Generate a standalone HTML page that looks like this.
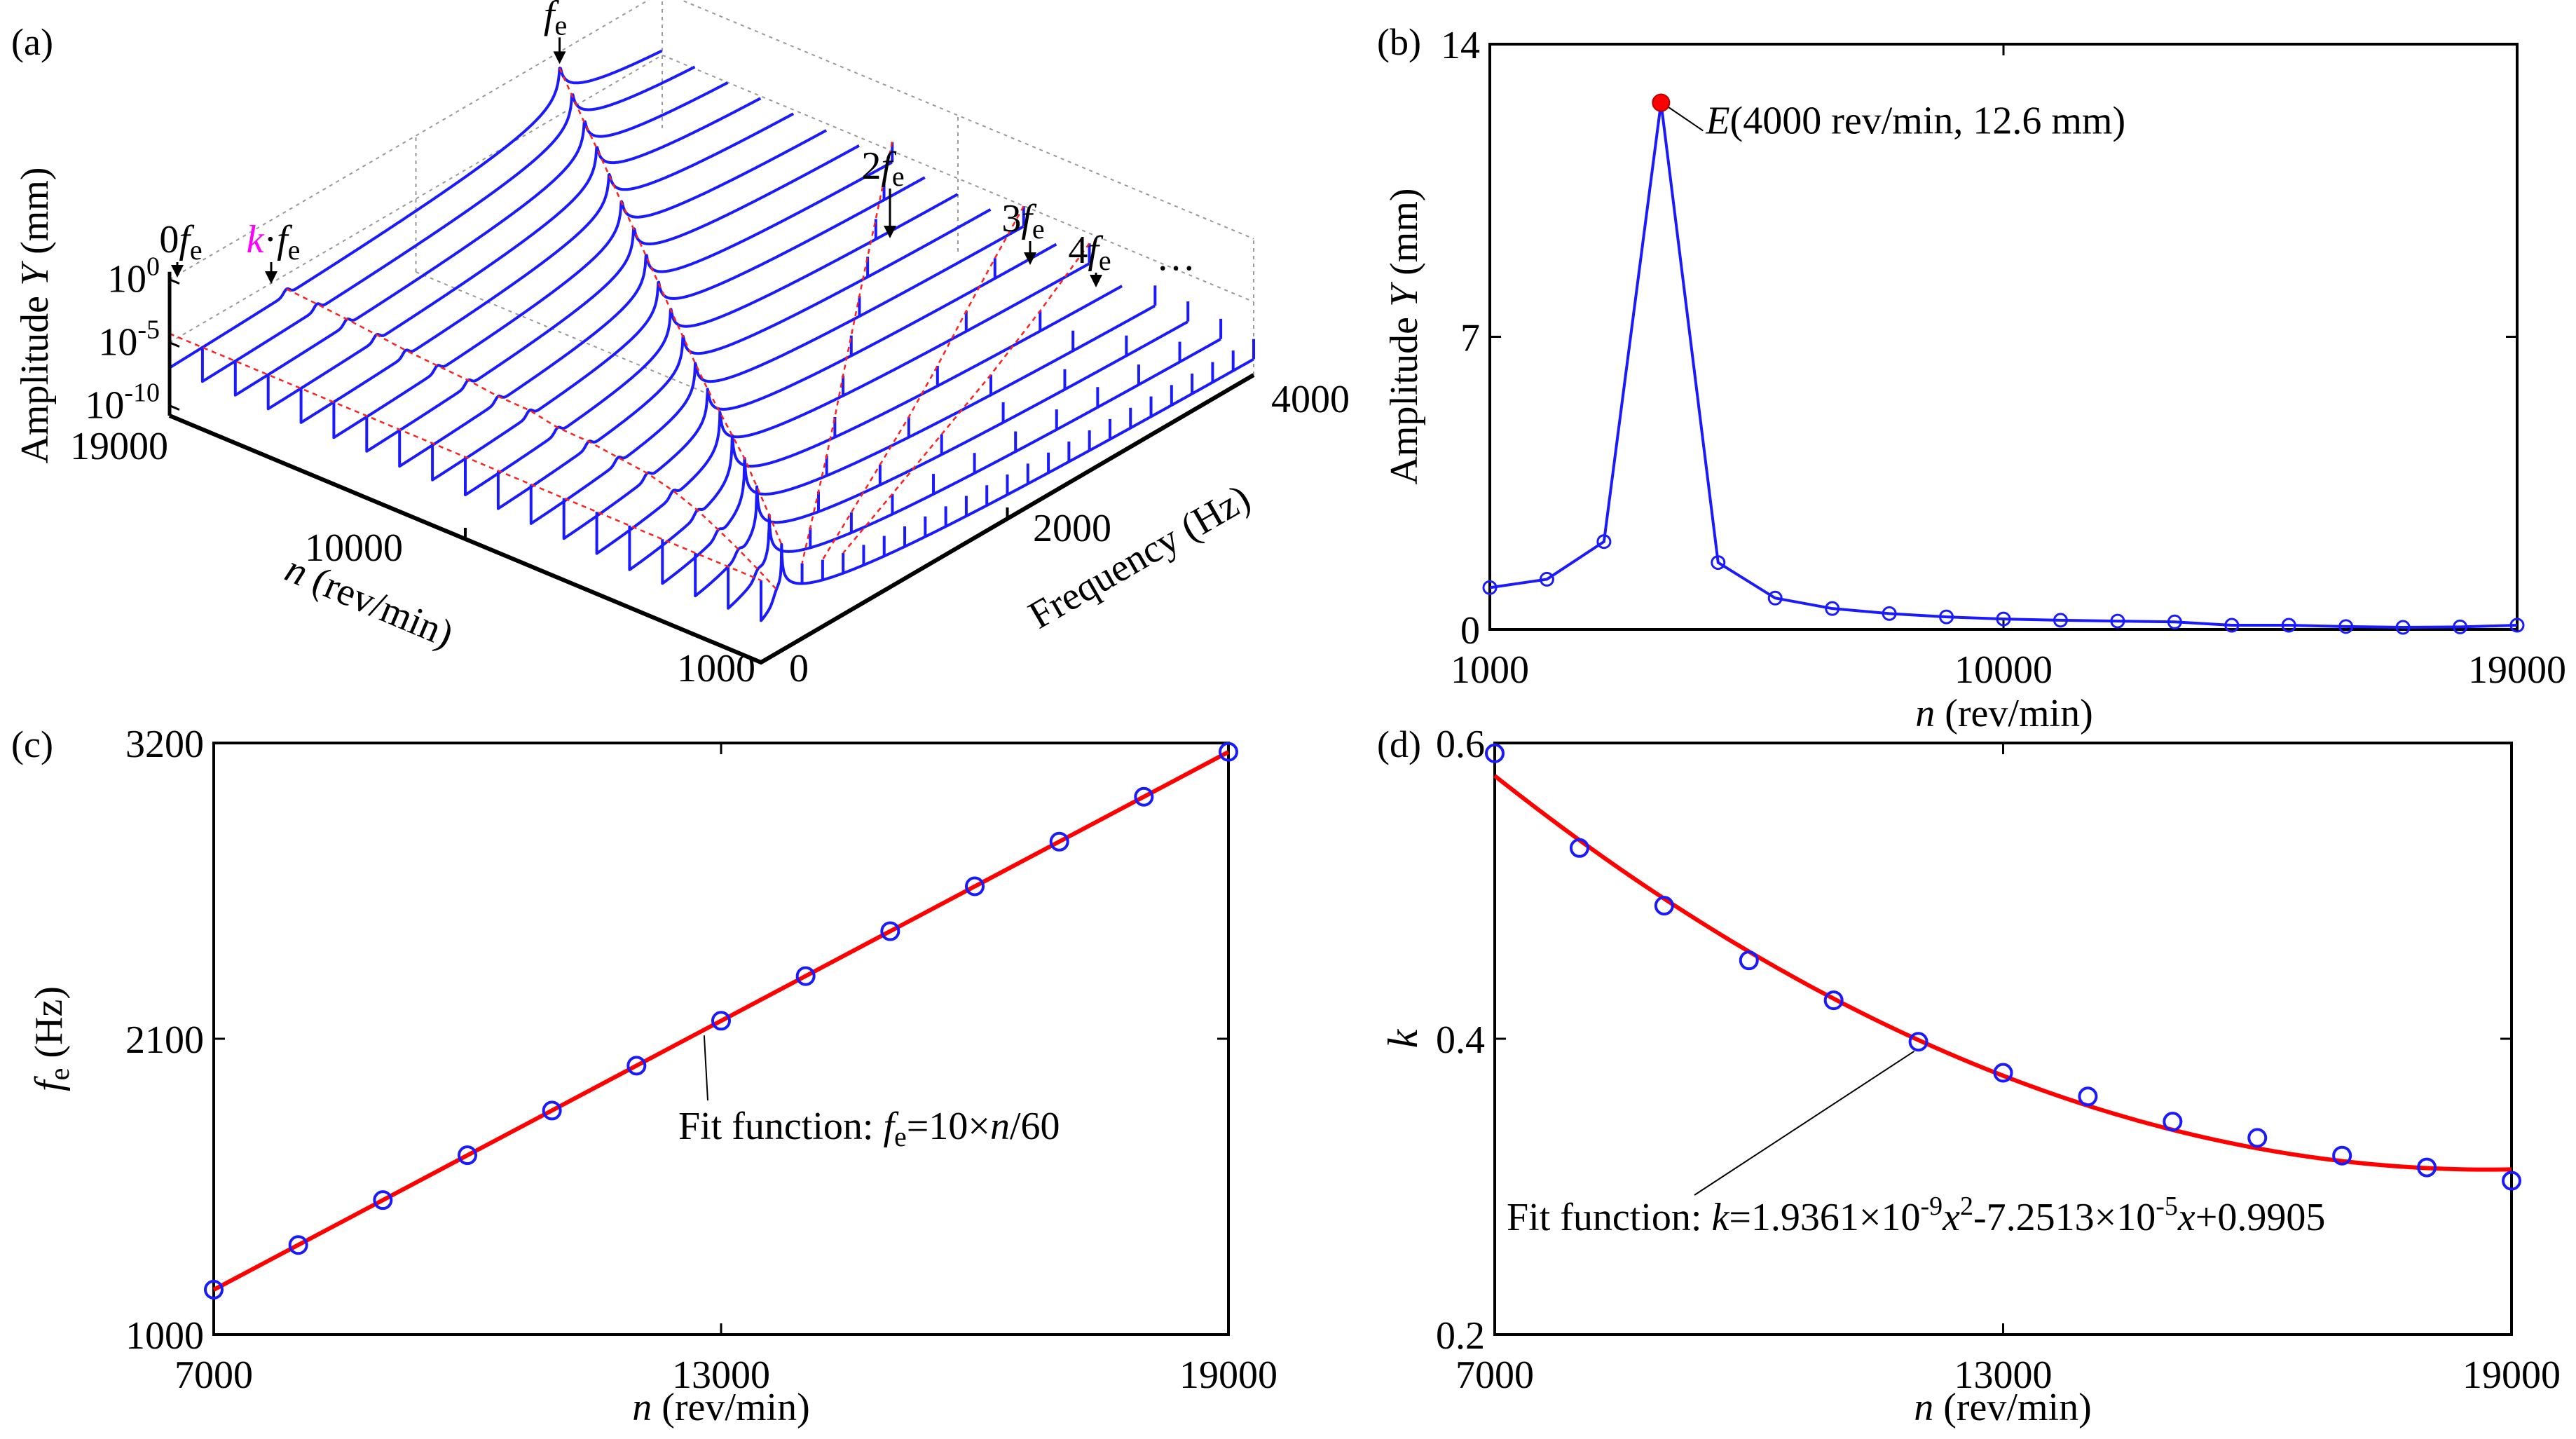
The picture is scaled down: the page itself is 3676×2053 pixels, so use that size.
<!DOCTYPE html>
<html><head><meta charset="utf-8"><style>
html,body{margin:0;padding:0;background:#fff;width:3676px;height:2053px;overflow:hidden}
svg{display:block}
svg text{font-family:"Liberation Serif","Times New Roman",serif;fill:#000}
</style></head><body>
<svg id="fig" width="3676" height="2053" viewBox="0 0 3676 2053" xmlns="http://www.w3.org/2000/svg" font-family="Liberation Serif, serif">
<g id="pa"></g>
<g id="pb"></g>
<g id="pc"></g>
<g id="pd"></g>
</svg>
<script>
// ---------- data ----------
// panel a (waterfall)
const aRpm=[1000,2000,3000,4000,5000,6000,7000,8000,9000,10000,11000,12000,13000,14000,15000,16000,17000,18000,19000];
const aBaseLog=[-7.5,-7.6,-7.7,-7.8,-7.8,-7.6,-7.5,-7.4,-7.3,-7.3,-7.2,-7.2,-7.1,-7.1,-7.0,-7.0,-7.0,-7.0,-7.0];
const aPeakLog=[-2.4,-2.1,-1.9,-1.7,-1.9,-2.1,-2.3,-2.3,-2.2,-2.1,-2.0,-1.9,-1.8,-1.7,-1.6,-1.5,-1.5,-1.4,-1.3];
const aKVal=[0.75,0.72,0.7,0.68,0.66,0.62,0.58,0.53,0.49,0.45,0.43,0.40,0.38,0.36,0.34,0.33,0.32,0.31,0.30];
const aSpike0Log=-4.3;
const aZTicks=[0,-5,-10];
// panel b
const bRpm=[1000,2000,3000,4000,5000,6000,7000,8000,9000,10000,11000,12000,13000,14000,15000,16000,17000,18000,19000];
const bAmp=[1.0,1.2,2.1,12.6,1.6,0.75,0.5,0.38,0.3,0.25,0.22,0.2,0.18,0.1,0.1,0.07,0.05,0.06,0.1];
const bXTicks=[1000,10000,19000];
const bYTicks=[0,7,14];
// panel c
const cRpm=[7000,8000,9000,10000,11000,12000,13000,14000,15000,16000,17000,18000,19000];
const cFe=[1167,1333,1500,1667,1833,2000,2167,2333,2500,2667,2833,3000,3167];
const cFitCoef=[10,60];
const cXTicks=[7000,13000,19000];
const cYTicks=[1000,2100,3200];
// panel d
const dRpm=[7000,8000,9000,10000,11000,12000,13000,14000,15000,16000,17000,18000,19000];
const dK=[0.593,0.529,0.49,0.453,0.426,0.398,0.377,0.361,0.344,0.333,0.321,0.313,0.304];
const dFitCoef=[1.9361e-9,-7.2513e-5,0.9905];
const dXTicks=[7000,13000,19000];
const dYTicks=[0.2,0.4,0.6];

const NS="http://www.w3.org/2000/svg";
function mk(parent,tag,attrs,txt){const e=document.createElementNS(NS,tag);for(const k in attrs)e.setAttribute(k,attrs[k]);if(txt!==undefined)e.textContent=txt;parent.appendChild(e);return e;}
function txt(parent,x,y,s,size,anchor,extra){const t=mk(parent,'text',Object.assign({x:x,y:y,'font-size':size,'text-anchor':anchor||'start','font-family':'Liberation Serif, serif'},extra||{}));t.innerHTML=s;return t;}

function frame(g,L,T,R,B,xt,yt,X,Y,fmtY){
  const r=mk(g,'rect',{x:L,y:T,width:R-L,height:B-T,fill:'none',stroke:'#000','stroke-width':4});
  
  xt.forEach(v=>{const x=X(v);
    mk(g,'line',{x1:x,y1:B,x2:x,y2:B-16,stroke:'#000','stroke-width':3});
    mk(g,'line',{x1:x,y1:T,x2:x,y2:T+16,stroke:'#000','stroke-width':3});
    const t=txt(g,x,B+76,String(v),56,'middle');
    });
  yt.forEach(v=>{const y=Y(v);
    mk(g,'line',{x1:L,y1:y,x2:L+16,y2:y,stroke:'#000','stroke-width':3});
    mk(g,'line',{x1:R,y1:y,x2:R-16,y2:y,stroke:'#000','stroke-width':3});
    const t=txt(g,L-14,y+20,fmtY?fmtY(v):String(v),56,'end');
    });
}

// ---------- panel b ----------
(function(){
  const g=document.getElementById('pb');
  const L=2126,R=3592,T=63,B=898;
  const X=n=>L+(n-1000)/18000*(R-L), Y=v=>B-v/14*(B-T);
  frame(g,L,T,R,B,bXTicks,bYTicks,X,Y);
  const pl=mk(g,'polyline',{points:bRpm.map((n,i)=>X(n)+','+Y(bAmp[i])).join(' '),fill:'none',stroke:'#1a1aff','stroke-width':4});
  
  let imax=0;bAmp.forEach((v,i)=>{if(v>bAmp[imax])imax=i;});
  bRpm.forEach((n,i)=>{if(i===imax)return;const c=mk(g,'circle',{cx:X(n),cy:Y(bAmp[i]),r:9,fill:'none',stroke:'#1a1aff','stroke-width':3});
    });
  const px=X(bRpm[imax]),py=Y(bAmp[imax]);
  mk(g,'line',{x1:px+10,y1:py+6,x2:px+60,y2:py+40,stroke:'#000','stroke-width':2});
  const e=mk(g,'circle',{cx:px,cy:py,r:12,fill:'#ff0000',stroke:'#b00','stroke-width':2});
  
  const a=txt(g,px+64,py+44,'<tspan font-style="italic">E</tspan>(4000 rev/min, 12.6 mm)',56,'start');
  
  const yl=txt(g,0,0,'Amplitude <tspan font-style="italic">Y</tspan> (mm)',56,'middle',{transform:'translate(2022,480) rotate(-90)'});
  
  const xl=txt(g,2860,1036,'<tspan font-style="italic">n</tspan> (rev/min)',56,'middle');
  
  const lb=txt(g,1965,78,'(b)',54,'start');
})();

// ---------- panel c ----------
(function(){
  const g=document.getElementById('pc');
  const L=305,R=1753,T=1060,B=1904;
  const X=n=>L+(n-7000)/12000*(R-L), Y=v=>B-(v-1000)/2200*(B-T);
  frame(g,L,T,R,B,cXTicks,cYTicks,X,Y);
  const fit=n=>cFitCoef[0]*n/cFitCoef[1];
  const ln=mk(g,'line',{x1:X(7000),y1:Y(fit(7000)),x2:X(19000),y2:Y(fit(19000)),stroke:'#ff0000','stroke-width':6});
  
  cRpm.forEach((n,i)=>{const c=mk(g,'circle',{cx:X(n),cy:Y(cFe[i]),r:12,fill:'none',stroke:'#1a1aff','stroke-width':4});
    });
  mk(g,'line',{x1:1010,y1:1570,x2:X(12800),y2:Y(fit(12800))+8,stroke:'#000','stroke-width':2});
  const a=txt(g,968,1625,'Fit function: <tspan font-style="italic">f</tspan><tspan font-size="40" dy="10">e</tspan><tspan dy="-10">=10×</tspan><tspan font-style="italic">n</tspan>/60',56,'start');
  
  const yl=txt(g,0,0,'<tspan font-style="italic">f</tspan><tspan font-size="40" dy="10">e</tspan><tspan dy="-10"> (Hz)</tspan>',56,'middle',{transform:'translate(88,1482) rotate(-90)'});
  
  const xl=txt(g,1029,2026,'<tspan font-style="italic">n</tspan> (rev/min)',56,'middle');
  
  const lb=txt(g,16,1080,'(c)',54,'start');
})();

// ---------- panel d ----------
(function(){
  const g=document.getElementById('pd');
  const L=2133,R=3584,T=1060,B=1904;
  const X=n=>L+(n-7000)/12000*(R-L), Y=v=>B-(v-0.2)/0.4*(B-T);
  frame(g,L,T,R,B,dXTicks,dYTicks,X,Y,v=>v.toFixed(1));
  const fit=n=>dFitCoef[0]*n*n+dFitCoef[1]*n+dFitCoef[2];
  const pts=[];for(let n=7000;n<=19000;n+=100)pts.push(X(n)+','+Y(fit(n)));
  const pl=mk(g,'polyline',{points:pts.join(' '),fill:'none',stroke:'#ff0000','stroke-width':6});
  
  dRpm.forEach((n,i)=>{const c=mk(g,'circle',{cx:X(n),cy:Y(dK[i]),r:12,fill:'none',stroke:'#1a1aff','stroke-width':4});
    });
  mk(g,'line',{x1:2418,y1:1705,x2:X(12000)-6,y2:Y(fit(12000))+16,stroke:'#000','stroke-width':2});
  const a=txt(g,2150,1755,'Fit function: <tspan font-style="italic">k</tspan>=1.9361×10<tspan font-size="38" dy="-22">-9</tspan><tspan font-style="italic" dy="22">x</tspan><tspan font-size="38" dy="-22">2</tspan><tspan dy="22">-7.2513×10</tspan><tspan font-size="38" dy="-22">-5</tspan><tspan font-style="italic" dy="22">x</tspan>+0.9905',56,'start');
  
  const yl=txt(g,0,0,'k',60,'middle',{transform:'translate(2022,1482) rotate(-90)','font-style':'italic'});
  
  const xl=txt(g,2858,2026,'<tspan font-style="italic">n</tspan> (rev/min)',56,'middle');
  
  const lb=txt(g,1965,1080,'(d)',54,'start');
})();

// ---------- panel a ----------
(function(){
  const g=document.getElementById('pa');
  const ZF=-10.8, ZS=18;
  const P=(n,f,L)=>[1086+(n-1000)/18000*-844+f/4000*703, 945+(n-1000)/18000*-352+f/4000*-410-(L-ZF)*ZS];
  const pt=p=>p[0].toFixed(1)+','+p[1].toFixed(1);
  const gr=mk(g,'g',{stroke:'#999','stroke-width':2,'stroke-dasharray':'5,6',fill:'none'});
  
  [-5,0].forEach(z=>{
    mk(gr,'polyline',{points:[P(19000,0,z),P(19000,4000,z),P(1000,4000,z)].map(pt).join(' ')});
  });
  [[19000,0],[19000,2000],[19000,4000],[10000,4000],[1000,4000]].forEach(q=>{
    mk(gr,'line',{x1:P(q[0],q[1],ZF)[0],y1:P(q[0],q[1],ZF)[1],x2:P(q[0],q[1],0)[0],y2:P(q[0],q[1],0)[1]});
  });
  mk(gr,'polyline',{points:[P(19000,2000,ZF),P(10000,2000,ZF)].map(pt).join(' ')});
  const RMAX=-Math.log10(0.003);
  function spec(i,f){
    const n=aRpm[i],fe=n/6,r=f/fe,b=aBaseLog[i],pk=aPeakLog[i];
    const res=-Math.log10(Math.abs(1-r*r)+0.003);
    let L;
    if(r<=1)L=b+1.0*r+(pk-b-1.0)*res/RMAX;
    else L=b+1.8+(pk-b-1.0)*res/RMAX+0.5*(r-1)*(fe/3000);
    const kf=aKVal[i]*fe;
    L+=0.45*Math.exp(-Math.pow((f-kf)/35,2));
    return Math.min(L,pk);
  }
  const redPts={0:[],k:[],1:[],2:[],3:[],4:[]};
  for(let i=aRpm.length-1;i>=0;i--){
    const n=aRpm[i],fe=n/6;
    const fs=[];for(let f=2;f<=4000;f+=6)fs.push(f);fs.push(fe);fs.sort((a,b)=>a-b);
    const pts=[pt(P(n,0,aSpike0Log)),pt(P(n,0,spec(i,2)))];
    fs.forEach(f=>{pts.push(pt(P(n,f,spec(i,f))));});
    const pl=mk(g,'polyline',{points:pts.join(' '),fill:'none',stroke:'#1a1aff','stroke-width':4,'stroke-linejoin':'round'});
    
    for(let m=2;m*fe<=4000;m++){
      const f=m*fe,a=P(n,f,spec(i,f)),b=P(n,f,spec(i,f)+1.6);
      const s=mk(g,'line',{x1:a[0],y1:a[1],x2:b[0],y2:b[1],stroke:'#1a1aff','stroke-width':4});
      
      if(m<=4)redPts[m].push(b);
    }
    redPts[0].push(P(n,0,aSpike0Log));
    redPts[1].push(P(n,fe,aPeakLog[i]));
    redPts.k.push(P(n,aKVal[i]*fe,spec(i,aKVal[i]*fe)));
  }
  Object.keys(redPts).forEach(k=>{
    if(redPts[k].length<2)return;
    const l=mk(g,'polyline',{points:redPts[k].map(pt).join(' '),fill:'none',stroke:'#ff2020','stroke-width':2.5,'stroke-dasharray':'7,6'});
    
  });
  const o=P(1000,0,ZF),nE=P(19000,0,ZF),fE=P(1000,4000,ZF),zT=P(19000,0,0.6);
  const ax=mk(g,'polyline',{points:[nE,o,fE].map(pt).join(' '),fill:'none',stroke:'#000','stroke-width':6});
  
  const za=mk(g,'line',{x1:nE[0],y1:nE[1],x2:zT[0],y2:zT[1],stroke:'#000','stroke-width':5});
  
  aZTicks.forEach(z=>{const p=P(19000,0,z);mk(g,'line',{x1:p[0],y1:p[1],x2:p[0]+14,y2:p[1]+6,stroke:'#000','stroke-width':3});
    const t=txt(g,p[0]-14,p[1]+18,'10<tspan font-size="38" dy="-24">'+z+'</tspan>',56,'end');
    });
  [[10000,0],[1000,2000]].forEach(q=>{const p=P(q[0],q[1],ZF);mk(g,'line',{x1:p[0],y1:p[1],x2:p[0],y2:p[1]-16,stroke:'#000','stroke-width':4});});
  const labs=[['19000',240,655,'end'],['10000',505,800,'middle'],['1000',1022,972,'middle'],['0',1140,972,'middle'],['2000',1530,772,'middle'],['4000',1870,588,'middle']];
  labs.forEach(l=>{const t=txt(g,l[1],l[2],l[0],56,l[3]);});
  const t1=txt(g,0,0,'<tspan font-style="italic">n</tspan> (rev/min)',56,'middle',{transform:'translate(520,875) rotate(23)'});
  
  const t2=txt(g,0,0,'Frequency (Hz)',56,'middle',{transform:'translate(1635,810) rotate(-30)'});
  
  const t3=txt(g,0,0,'Amplitude <tspan font-style="italic">Y</tspan> (mm)',56,'middle',{transform:'translate(68,450) rotate(-90)'});
  
  const lb=txt(g,16,78,'(a)',54,'start');
  const pk=P(19000,19000/6,aPeakLog[18]);
  const hl=[['<tspan font-style="italic">f</tspan><tspan font-size="40" dy="10">e</tspan>',pk[0]-6,pk[1]-58,pk[0],pk[1]-6],
            ['2<tspan font-style="italic">f</tspan><tspan font-size="40" dy="10">e</tspan>',1260,255,1270,340],
            ['3<tspan font-style="italic">f</tspan><tspan font-size="40" dy="10">e</tspan>',1460,330,1470,378],
            ['4<tspan font-style="italic">f</tspan><tspan font-size="40" dy="10">e</tspan>',1555,375,1564,410],
            ['0<tspan font-style="italic">f</tspan><tspan font-size="40" dy="10">e</tspan>',258,360,253,396],
            ['<tspan font-style="italic" fill="#ff00ff">k</tspan>·<tspan font-style="italic">f</tspan><tspan font-size="40" dy="10">e</tspan>',390,360,387,405]];
  hl.forEach(h=>{
    const t=txt(g,h[1],h[2],h[0],56,'middle');
    mk(g,'line',{x1:h[3],y1:h[2]+14,x2:h[3],y2:h[4]-10,stroke:'#000','stroke-width':3});
    mk(g,'polygon',{points:(h[3]-9)+','+(h[4]-18)+' '+(h[3]+9)+','+(h[4]-18)+' '+h[3]+','+h[4],fill:'#000'});
  });
  const d=txt(g,1650,385,'…',56,'start');
})();
</script>
</body></html>
